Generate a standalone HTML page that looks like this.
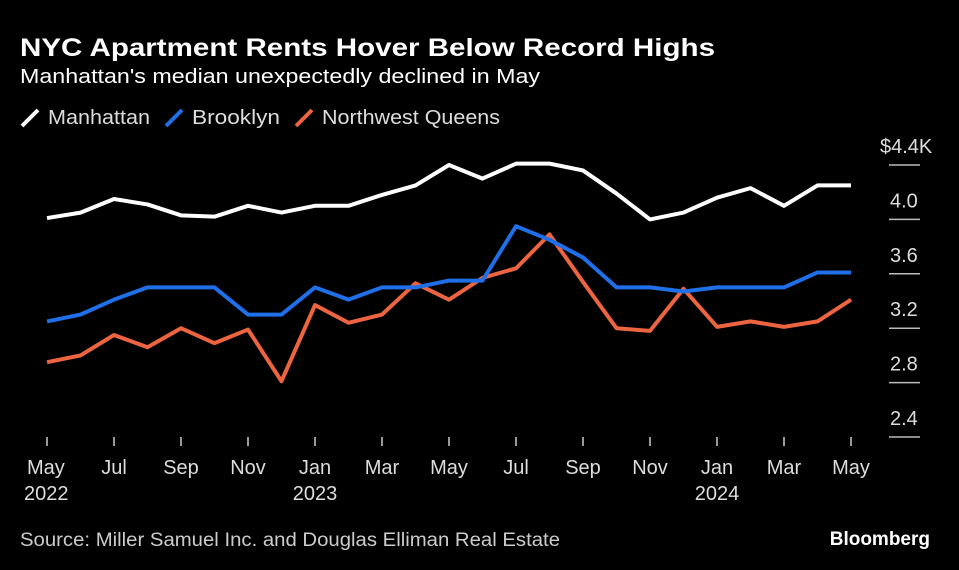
<!DOCTYPE html>
<html><head><meta charset="utf-8"><style>
body{margin:0;background:#000;width:959px;height:570px;overflow:hidden;font-family:"Liberation Sans",sans-serif;color:#fff}
svg{display:block}
</style></head><body>
<svg width="959" height="570" id="c">
<text x="20" y="56" font-size="25" font-weight="bold" fill="#fff" textLength="695" lengthAdjust="spacingAndGlyphs">NYC Apartment Rents Hover Below Record Highs</text>
<text x="20" y="83" font-size="20" fill="#fff" textLength="520" lengthAdjust="spacingAndGlyphs">Manhattan's median unexpectedly declined in May</text>
<g font-size="20" fill="#ddd">
<g><line x1="22" y1="126" x2="38" y2="110" stroke="#fff" stroke-width="4"/><text x="48" y="124" textLength="102" lengthAdjust="spacingAndGlyphs">Manhattan</text></g>
<g><line x1="166" y1="126" x2="182" y2="110" stroke="#1f6fe8" stroke-width="4"/><text x="192" y="124" textLength="88" lengthAdjust="spacingAndGlyphs">Brooklyn</text></g>
<g><line x1="296" y1="126" x2="312" y2="110" stroke="#ec6440" stroke-width="4"/><text x="322" y="124" textLength="178" lengthAdjust="spacingAndGlyphs">Northwest Queens</text></g>
</g>
<g id="axes"></g>
<g id="series"></g>
<text x="20" y="546" font-size="19" fill="#ccc" textLength="540" lengthAdjust="spacingAndGlyphs">Source: Miller Samuel Inc. and Douglas Elliman Real Estate</text>
<text x="930" y="545" font-size="19" font-weight="bold" fill="#fff" text-anchor="end">Bloomberg</text>
</svg>
<script>
const manhattan=[4.01,4.05,4.15,4.11,4.03,4.02,4.10,4.05,4.10,4.10,4.18,4.25,4.40,4.30,4.41,4.41,4.36,4.19,4.00,4.05,4.16,4.23,4.10,4.25,4.25];
const brooklyn=[3.25,3.30,3.41,3.50,3.50,3.50,3.30,3.30,3.50,3.41,3.50,3.50,3.55,3.55,3.95,3.85,3.72,3.50,3.50,3.47,3.50,3.50,3.50,3.61,3.61];
const queens=[2.95,3.00,3.15,3.06,3.20,3.09,3.19,2.81,3.37,3.24,3.30,3.53,3.41,3.57,3.64,3.89,3.54,3.20,3.18,3.49,3.21,3.25,3.21,3.25,3.41];
const yTicks=[2.4,2.8,3.2,3.6,4.0,4.4];
const yTickLabels=["2.4","2.8","3.2","3.6","4.0","$4.4K"];
const xLabels=["May","Jul","Sep","Nov","Jan","Mar","May","Jul","Sep","Nov","Jan","Mar","May"];
const xYears=["2022","","","","2023","","","","","","2024","",""];
const NS="http://www.w3.org/2000/svg";
const X=i=>47+i*(851-47)/24;
const Y=v=>437-(v-2.4)*136;
const axes=document.getElementById('axes'),ser=document.getElementById('series');
function mk(t,a,p){const e=document.createElementNS(NS,t);for(const k in a)e.setAttribute(k,a[k]);p.appendChild(e);return e;}
yTicks.forEach((v,i)=>{
 const l=mk('line',{x1:889,x2:920,y1:Y(v),y2:Y(v),stroke:'#bbb','stroke-width':1.5},axes);
 
 
 const t=mk('text',{x:i==5?880:890,y:Y(v)-12,'font-size':20,fill:'#ddd'},axes);
 t.textContent=yTickLabels[i];
 
 
});
xLabels.forEach((m,j)=>{
 const x=X(j*2);
 const l=mk('line',{x1:x,x2:x,y1:437,y2:446,stroke:'#ccc','stroke-width':1.5},axes);
 
 
 const t=mk('text',{x:j==0?27:x,y:474,'font-size':20,fill:'#ddd','text-anchor':j==0?'start':'middle'},axes);
 t.textContent=m;
 
 
 if(xYears[j]){const y=mk('text',{x:j==0?24:x,y:500,'font-size':20,fill:'#ddd','text-anchor':j==0?'start':'middle'},axes);
 y.textContent=xYears[j];
 
 }
});
[[queens,'#ec6440','queens-line'],[brooklyn,'#1f6fe8','brooklyn-line'],[manhattan,'#fff','manhattan-line']].forEach(([d,c,n])=>{
 const p=mk('polyline',{points:d.map((v,i)=>X(i)+','+Y(v)).join(' '),fill:'none',stroke:c,'stroke-width':4,'stroke-linejoin':'round'},ser);
 
 
});
</script>
</body></html>
